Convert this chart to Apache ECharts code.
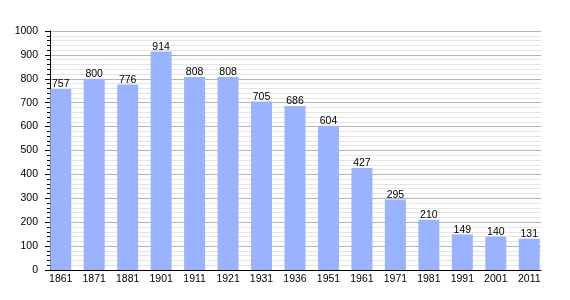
<!DOCTYPE html>
<html><head><meta charset="utf-8">
<script src="https://cdn.jsdelivr.net/npm/echarts@6/dist/echarts.min.js"></script>
<style>html,body{margin:0;padding:0;background:#fff}#c{width:570px;height:300px}</style>
</head><body><div id="c"></div>
<script>
const years = ['1861','1871','1881','1901','1911','1921','1931','1936','1951','1961','1971','1981','1991','2001','2011'];
const population = [757,800,776,914,808,808,705,686,604,427,295,210,149,140,131];
const yTicks = [0,100,200,300,400,500,600,700,800,900,1000];

const chart = echarts.init(document.getElementById('c'));
const font = 'Liberation Sans, Arial, sans-serif';
chart.setOption({
  animation: false,
  grid: [
    {left: 50, right: 29, top: 31, bottom: 30},
    {left: 44, right: 24, top: 31, bottom: 30}
  ],
  xAxis: [
    {gridIndex: 0, type: 'category', data: years,
     axisLine: {lineStyle: {color: '#000', width: 1}}, axisTick: {show: false},
     axisLabel: {show: false}, splitLine: {show: false}},
    {gridIndex: 1, type: 'category', data: years,
     axisLine: {show: false}, axisTick: {show: false},
     axisLabel: {color: '#000', fontSize: 10.5, fontFamily: font, margin: 4}}
  ],
  yAxis: [
    {gridIndex: 0, type: 'value', min: yTicks[0], max: yTicks[yTicks.length-1], interval: 100,
     axisLine: {show: true, lineStyle: {color: '#000'}},
     axisTick: {show: true, length: 5, lineStyle: {color: '#000'}},
     minorTick: {show: true, splitNumber: 5, length: 3, lineStyle: {color: '#000'}},
     axisLabel: {color: '#000', fontSize: 10.5, fontFamily: font, margin: 12, formatter: v => String(v)},
     splitLine: {show: true, lineStyle: {color: '#b4b4b4'}},
     minorSplitLine: {show: true, lineStyle: {color: '#e4e4e4'}}},
    {gridIndex: 1, type: 'value', min: 0, max: 1000, interval: 100, show: false,
     splitLine: {show: false}}
  ],
  series: [{
    type: 'bar', xAxisIndex: 1, yAxisIndex: 1, data: population, barWidth: 21,
    itemStyle: {color: '#99b3ff'},
    label: {show: true, position: 'top', distance: -1, color: '#000', fontSize: 10.5, fontFamily: font}
  }]
});
</script></body></html>
